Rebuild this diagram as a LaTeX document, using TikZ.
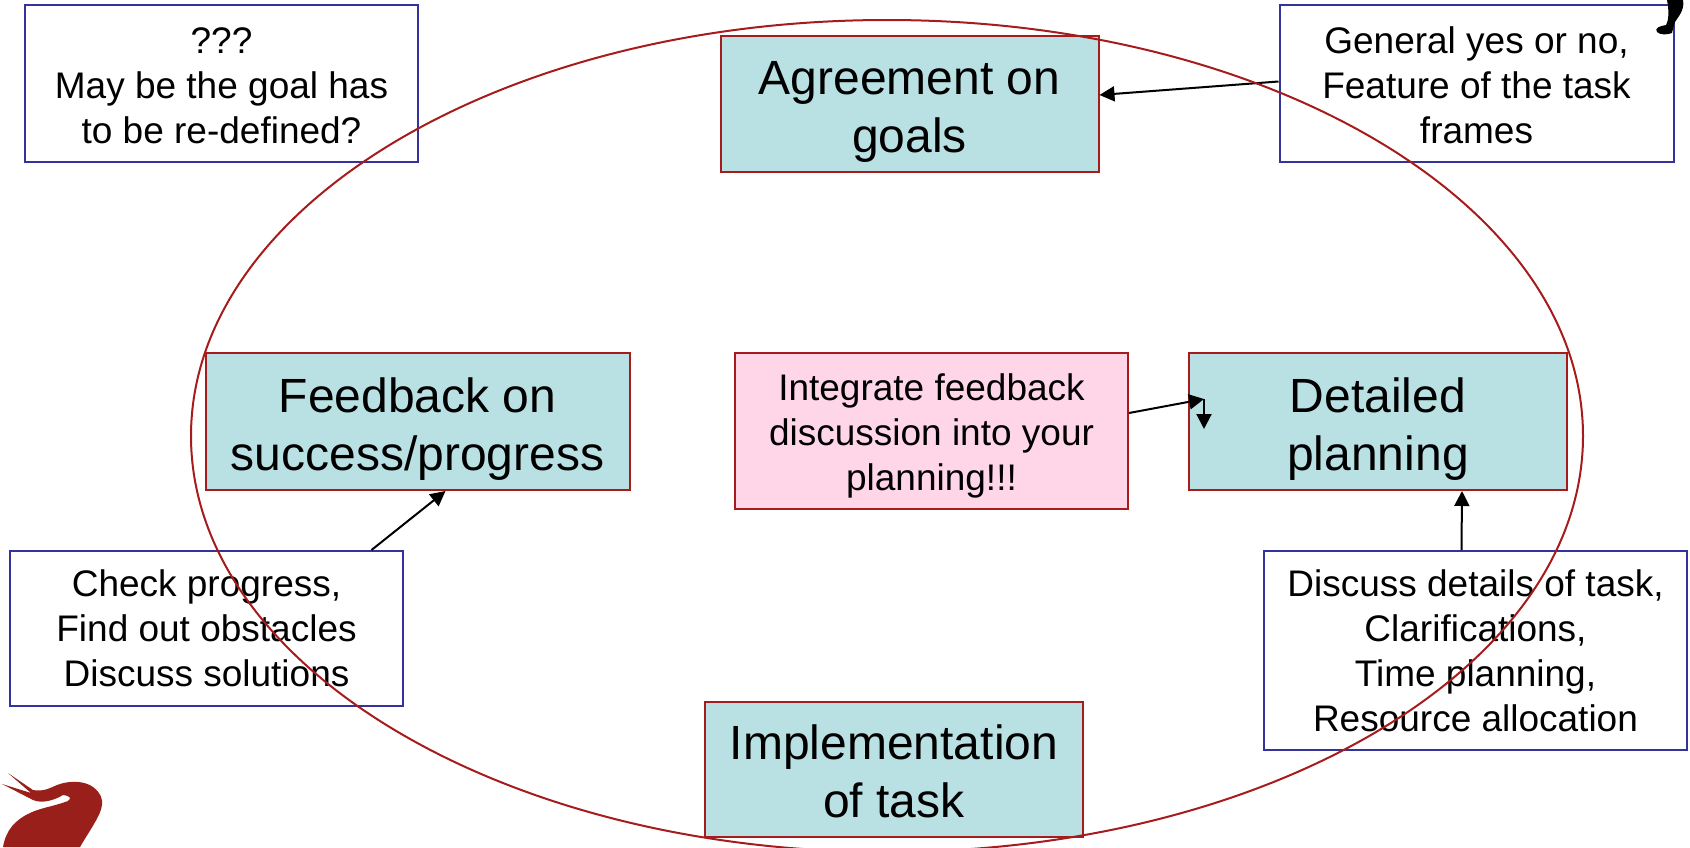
\documentclass[tikz,border=0pt]{standalone}
\usepackage{fontspec}
\setmainfont{Liberation Sans}
\usetikzlibrary{arrows.meta,shapes.geometric}
\definecolor{boxteal}{HTML}{B9E0E3}
\definecolor{boxred}{HTML}{A61C1C}
\definecolor{boxpink}{HTML}{FFD5E8}
\definecolor{boxblue}{HTML}{333399}
\definecolor{logored}{HTML}{99201A}
\tikzset{
  phasebox/.style={draw=boxred,fill=boxteal,line width=2pt,align=center,font=\fontsize{48}{58}\selectfont},
  notebox/.style={draw=boxblue,fill=white,line width=2pt,align=center,font=\fontsize{37}{45}\selectfont},
  notearrow/.style={-{Triangle[length=15pt,width=15pt]},line width=2pt}
}
\begin{document}
\begin{tikzpicture}[x=1pt,y=-1pt]
            \useasboundingbox (0,0) rectangle (1690,847);
            % Stages of the cycle
            \node[phasebox,text height=107pt,minimum width=378pt,minimum height=136pt] (agreement) at (909.5,104) {Agreement on\\goals};
            \node[phasebox,text height=107pt,minimum width=424pt,minimum height=137pt] (feedback) at (417.5,421.5) {Feedback on\\success/progress};
            \node[phasebox,text height=107pt,minimum width=378pt,minimum height=137pt] (planning) at (1378,421.5) {Detailed\\planning};
            \node[phasebox,text height=97pt,minimum width=378pt,minimum height=135pt] (implementation) at (894,769.5) {Implementation\\of task};

            % Notes
            \node[notebox,text height=120pt,minimum width=393pt,minimum height=157pt] (redefine) at (221.5,83.5) {???\\May be the goal has\\to be re-defined?};
            \node[notebox,text height=120pt,minimum width=394pt,minimum height=157pt] (frames) at (1476.5,83.5) {General yes or no,\\Feature of the task\\frames};
            \node[notebox,minimum width=393pt,minimum height=155pt] (progress) at (206.5,628.5) {Check progress,\\Find out obstacles\\Discuss solutions};
            \node[notebox,minimum width=423pt,minimum height=199pt] (details) at (1475.5,650.5) {Discuss details of task,\\Clarifications,\\Time planning,\\Resource allocation};
            \node[notebox,text height=126pt,draw=boxred,fill=boxpink,minimum width=393pt,minimum height=156pt] (integrate) at (931.5,431) {Integrate feedback\\discussion into your\\planning!!!};

            % Arrows
            \coordinate (kink) at (1204,399);
            \draw[notearrow] ([yshift=2pt]frames.west) -- ([yshift=9pt]agreement.east);
            \draw[notearrow] ([xshift=165pt]progress.north) -- ([xshift=28pt]feedback.south);
            \draw[notearrow] ([xshift=-14pt]details.north) -- ([xshift=84pt]planning.south);
            \draw[notearrow] ([yshift=18pt]integrate.east) -- (kink);
            \draw[notearrow] (kink) -- ++(0,30);

            % Cycle
            \node[draw=boxred,line width=2pt,ellipse,minimum width=1392pt,minimum height=832pt,inner sep=0pt] (cycle) at (887,436) {};

            % Logo
            \fill[logored] (8,773) -- (33,790) .. controls (43,792) and (50,788) .. (57,785)
            .. controls (70,780) and (85,781) .. (93,787) .. controls (101,793) and (103,800) .. (102,805)
            .. controls (101,815) and (90,830) .. (80,847) -- (3,847)
            .. controls (6,830) and (15,820) .. (30,813) .. controls (40,808) and (55,806) .. (68,801)
            .. controls (72,798) and (70,796) .. (63,795) .. controls (55,800) and (42,804) .. (33,800)
            -- (2,784) -- (31,793) -- cycle;

            % Mark in the corner
            \fill (1667,0) -- (1683,0) .. controls (1685,10) and (1678,17) .. (1675,22)
            .. controls (1673,27) and (1673,30) .. (1672,33) .. controls (1667,35) and (1660,35) .. (1657,32)
            .. controls (1654,28) and (1660,26) .. (1666,25) .. controls (1669,20) and (1669,10) .. cycle;
        \end{tikzpicture}
\end{document}
